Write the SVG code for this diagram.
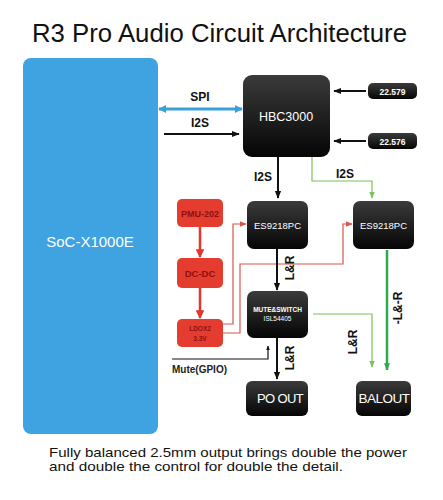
<svg xmlns="http://www.w3.org/2000/svg" width="443" height="500" viewBox="0 0 443 500">
<style>
text{font-family:"Liberation Sans",Arial,sans-serif}
.chip{fill:url(#dark)}
.wt{fill:#fff;text-anchor:middle}
.red{fill:#e53c30}
.rt{fill:#8e1010;text-anchor:middle;font-weight:bold}
.lbl{fill:#111;font-weight:bold;font-size:12px;text-anchor:middle}
.blk{stroke:#111;stroke-width:2;fill:none}
.rl{stroke:#d9554b;stroke-width:1.2;fill:none}
.gthin{stroke:#7cc256;stroke-width:1.2;fill:none}
.gthick{stroke:#2fa84f;stroke-width:2.5;fill:none}
</style>
<defs>
<linearGradient id="dark" x1="0" y1="0" x2="0" y2="1">
<stop offset="0" stop-color="#3b3b3b"/>
<stop offset="1" stop-color="#050505"/>
</linearGradient>
<marker id="ab" viewBox="0 0 10 10" refX="9" refY="5" markerWidth="4" markerHeight="4" orient="auto-start-reverse"><path d="M0,1 L10,5 L0,9 z" fill="#111"/></marker>
<marker id="abl" viewBox="0 0 10 10" refX="9" refY="5" markerWidth="2.6" markerHeight="2.6" orient="auto-start-reverse"><path d="M0,0 L10,5 L0,10 z" fill="#3aa0d8"/></marker>
<marker id="ar" viewBox="0 0 10 10" refX="9" refY="5" markerWidth="6" markerHeight="6" orient="auto"><path d="M0,1 L10,5 L0,9 z" fill="#d9554b"/></marker>
<marker id="ar2" viewBox="0 0 10 10" refX="9" refY="5" markerWidth="3.5" markerHeight="3.5" orient="auto"><path d="M0,0 L10,5 L0,10 z" fill="#e0362c"/></marker>
<marker id="ag" viewBox="0 0 10 10" refX="9" refY="5" markerWidth="6" markerHeight="6" orient="auto"><path d="M0,1 L10,5 L0,9 z" fill="#7cc256"/></marker>
<marker id="ag2" viewBox="0 0 10 10" refX="9" refY="5" markerWidth="3" markerHeight="3" orient="auto"><path d="M0,1 L10,5 L0,9 z" fill="#2fa84f"/></marker>
</defs>
<rect width="443" height="500" fill="#fff"/>
<text x="32" y="42" font-size="25.5" fill="#111" textLength="375" lengthAdjust="spacingAndGlyphs">R3 Pro Audio Circuit Architecture</text>

<g id="connectors">
<line x1="159" y1="109" x2="242" y2="109" stroke="#3aa0d8" stroke-width="3" marker-start="url(#abl)" marker-end="url(#abl)"/>
<line x1="164" y1="134" x2="239" y2="134" class="blk" marker-end="url(#ab)"/>
<line x1="366" y1="91" x2="334" y2="91" class="blk" marker-end="url(#ab)"/>
<line x1="366" y1="141" x2="334" y2="141" class="blk" marker-end="url(#ab)"/>
<line x1="278" y1="157" x2="278" y2="198" class="blk" marker-end="url(#ab)"/>
<polyline points="312,157 312,181 372,181 372,198" class="gthin" marker-end="url(#ag)"/>
<line x1="200" y1="227" x2="200" y2="257" stroke="#e0362c" stroke-width="2.5" marker-end="url(#ar2)"/>
<line x1="200" y1="288" x2="200" y2="318" stroke="#e0362c" stroke-width="2.5" marker-end="url(#ar2)"/>
<polyline points="223,324 233,324 233,224 246,224" class="rl" marker-end="url(#ar)"/>
<polyline points="223,333 240,333 240,264 343,264 343,224 352,224" class="rl" marker-end="url(#ar)"/>
<line x1="277" y1="249" x2="277" y2="290" class="blk" marker-end="url(#ab)"/>
<polyline points="313,314 372,314 372,367" class="gthin" marker-end="url(#ag)"/>
<line x1="387" y1="250" x2="387" y2="370" class="gthick" marker-end="url(#ag2)"/>
<line x1="277" y1="338" x2="277" y2="379" class="blk" marker-end="url(#ab)"/>
<polyline points="172,359 268,359 268,346" stroke="#111" stroke-width="1.2" fill="none" marker-end="url(#ab)"/>
<text x="200" y="101" class="lbl">SPI</text>
<text x="200" y="127" class="lbl">I2S</text>
<text x="263" y="181" class="lbl">I2S</text>
<text x="345" y="178" class="lbl">I2S</text>
<text transform="translate(294,268) rotate(-90)" class="lbl">L&amp;R</text>
<text transform="translate(294,358) rotate(-90)" class="lbl">L&amp;R</text>
<text transform="translate(357,342) rotate(-90)" class="lbl">L&amp;R</text>
<text transform="translate(402,308) rotate(-90)" class="lbl">-L&amp;-R</text>
<text x="172" y="373" font-size="10" font-weight="bold" fill="#222">Mute(GPIO)</text>
</g>

<g id="soc">
<rect x="23" y="58" width="135" height="376" rx="8" fill="#3ea3e0"/>
<text x="90" y="247" class="wt" font-size="15">SoC-X1000E</text>
</g>
<g id="hbc3000">
<rect x="243" y="75" width="87" height="82" rx="9" class="chip"/>
<text x="286" y="121" class="wt" font-size="12.5">HBC3000</text>
</g>
<g id="osc1">
<rect x="368" y="83" width="49" height="16" rx="5" class="chip"/>
<text x="392.5" y="94.5" class="wt" font-size="8.5" font-weight="bold">22.579</text>
</g>
<g id="osc2">
<rect x="368" y="133" width="49" height="16" rx="5" class="chip"/>
<text x="392.5" y="144.5" class="wt" font-size="8.5" font-weight="bold">22.576</text>
</g>
<g id="dac1">
<rect x="247" y="201" width="61" height="48" rx="7" class="chip"/>
<text x="277.5" y="229" class="wt" font-size="9.5">ES9218PC</text>
</g>
<g id="dac2">
<rect x="353" y="201" width="61" height="48" rx="7" class="chip"/>
<text x="383.5" y="229" class="wt" font-size="9.5">ES9218PC</text>
</g>
<g id="pmu">
<rect x="177" y="199" width="46" height="28" rx="5" class="red"/>
<text x="200" y="216.5" class="rt" font-size="9">PMU-202</text>
</g>
<g id="dcdc">
<rect x="177" y="258" width="46" height="30" rx="5" class="red"/>
<text x="200" y="276.5" class="rt" font-size="9.5">DC-DC</text>
</g>
<g id="ldo">
<rect x="177" y="319" width="46" height="28" rx="5" class="red"/>
<text x="200" y="331" class="rt" font-size="6.5" font-weight="normal">LDOX2</text>
<text x="200" y="341" class="rt" font-size="6.5" font-weight="normal">3.3V</text>
</g>
<g id="mute">
<rect x="247" y="291" width="61" height="47" rx="7" class="chip"/>
<text x="277.5" y="312" class="wt" font-size="6.5" font-weight="bold">MUTE&amp;SWITCH</text>
<text x="277.5" y="321" class="wt" font-size="6.5">ISL54405</text>
</g>
<g id="poout">
<rect x="246" y="381" width="62" height="35" rx="6" class="chip"/>
<text x="280" y="403" class="wt" font-size="13" letter-spacing="-0.6">PO OUT</text>
</g>
<g id="balout">
<rect x="356" y="381" width="55" height="35" rx="6" class="chip"/>
<text x="384" y="403" class="wt" font-size="13.5" letter-spacing="-0.5">BALOUT</text>
</g>
<text x="49" y="457" font-size="13.5" fill="#111" textLength="358" lengthAdjust="spacingAndGlyphs">Fully balanced 2.5mm output brings double the power</text>
<text x="49" y="471" font-size="13.5" fill="#111" textLength="294" lengthAdjust="spacingAndGlyphs">and double the control for double the detail.</text>
</svg>
